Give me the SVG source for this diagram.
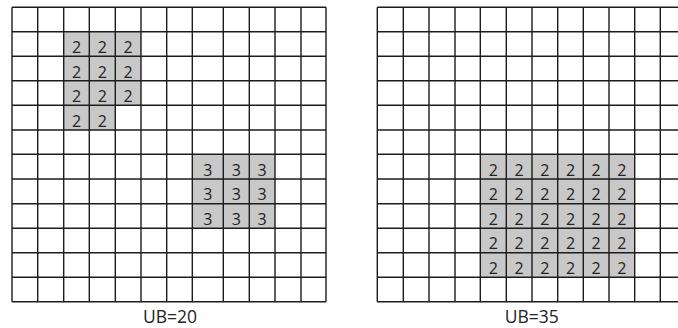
<svg xmlns="http://www.w3.org/2000/svg" width="678" height="328" viewBox="0 0 678 328">
<style>
.bg{fill:#ffffff}
.cell{fill:#c8c8c8}
.grid{fill:none;stroke:#1c1c1c;stroke-width:1.4}
.num{font-family:"Open Sans","Liberation Sans",sans-serif;font-size:16px;fill:#222;text-anchor:middle}
.lbl{font-family:"Open Sans","Liberation Sans",sans-serif;font-size:17.5px;fill:#222;text-anchor:middle}
</style>
<rect class="bg" x="0" y="0" width="678" height="328"/>
<g id="grid-left">
<rect class="cell" x="63.7" y="31.7" width="77.3" height="73.6"/>
<rect class="cell" x="63.7" y="105.3" width="51.6" height="24.7"/>
<rect class="cell" x="192.3" y="154.3" width="82.7" height="74"/>
<path class="grid" d="M12,7.3V301.7M37.7,7.3V301.7M63.7,7.3V301.7M89.3,7.3V301.7M115.3,7.3V301.7M141,7.3V301.7M166.7,7.3V301.7M192.3,7.3V301.7M223.3,7.3V301.7M249.3,7.3V301.7M275,7.3V301.7M301,7.3V301.7M326,7.3V301.7
M12,7.3H326M12,31.7H326M12,56.3H326M12,80.7H326M12,105.3H326M12,130H326M12,154.3H326M12,179H326M12,203.7H326M12,228.3H326M12,252.7H326M12,277.3H326M12,301.7H326"/>
<g class="num">
<text x="76.5" y="53">2</text><text x="102.3" y="53">2</text><text x="128.2" y="53">2</text>
<text x="76.5" y="77.5">2</text><text x="102.3" y="77.5">2</text><text x="128.2" y="77.5">2</text>
<text x="76.5" y="102">2</text><text x="102.3" y="102">2</text><text x="128.2" y="102">2</text>
<text x="76.5" y="126.5">2</text><text x="102.3" y="126.5">2</text>
<text x="207.8" y="175.5">3</text><text x="236.3" y="175.5">3</text><text x="262.2" y="175.5">3</text>
<text x="207.8" y="200">3</text><text x="236.3" y="200">3</text><text x="262.2" y="200">3</text>
<text x="207.8" y="224.7">3</text><text x="236.3" y="224.7">3</text><text x="262.2" y="224.7">3</text>
</g>
<text class="lbl" x="170" y="323">UB=20</text>
</g>
<g id="grid-right">
<rect class="cell" x="480.3" y="154.3" width="154.4" height="123"/>
<path class="grid" d="M377.3,7.3V301.7M403.3,7.3V301.7M429,7.3V301.7M455,7.3V301.7M480.3,7.3V301.7M506.3,7.3V301.7M532,7.3V301.7M557.7,7.3V301.7M583.3,7.3V301.7M609,7.3V301.7M634.7,7.3V301.7M660.3,7.3V301.7
M377.3,7.3H678M377.3,31.7H678M377.3,56.3H678M377.3,80.7H678M377.3,105.3H678M377.3,130H678M377.3,154.3H678M377.3,179H678M377.3,203.7H678M377.3,228.3H678M377.3,252.7H678M377.3,277.3H678M377.3,301.7H678"/>
<g class="num">
<text x="493.3" y="175.5">2</text><text x="519.2" y="175.5">2</text><text x="544.9" y="175.5">2</text><text x="570.5" y="175.5">2</text><text x="596.2" y="175.5">2</text><text x="621.9" y="175.5">2</text>
<text x="493.3" y="200">2</text><text x="519.2" y="200">2</text><text x="544.9" y="200">2</text><text x="570.5" y="200">2</text><text x="596.2" y="200">2</text><text x="621.9" y="200">2</text>
<text x="493.3" y="224.7">2</text><text x="519.2" y="224.7">2</text><text x="544.9" y="224.7">2</text><text x="570.5" y="224.7">2</text><text x="596.2" y="224.7">2</text><text x="621.9" y="224.7">2</text>
<text x="493.3" y="249.2">2</text><text x="519.2" y="249.2">2</text><text x="544.9" y="249.2">2</text><text x="570.5" y="249.2">2</text><text x="596.2" y="249.2">2</text><text x="621.9" y="249.2">2</text>
<text x="493.3" y="273.8">2</text><text x="519.2" y="273.8">2</text><text x="544.9" y="273.8">2</text><text x="570.5" y="273.8">2</text><text x="596.2" y="273.8">2</text><text x="621.9" y="273.8">2</text>
</g>
<text class="lbl" x="531.7" y="323">UB=35</text>
</g>
</svg>
